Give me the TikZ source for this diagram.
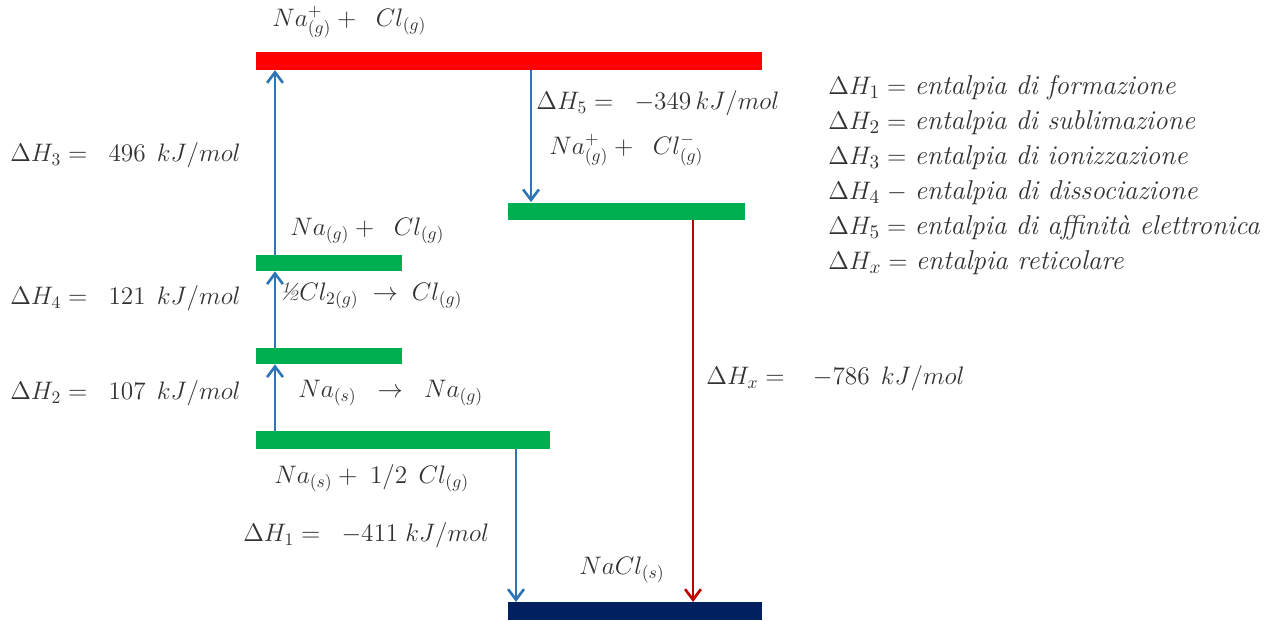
\documentclass[tikz,border=0pt]{standalone}
\usepackage{fontspec}
\usetikzlibrary{arrows.meta}
\definecolor{lvlgreen}{RGB}{0,176,80}
\definecolor{lvlnavy}{RGB}{0,32,96}
\definecolor{arrblue}{RGB}{46,117,182}
\definecolor{arrred}{RGB}{192,0,0}
\begin{document}
\begin{tikzpicture}[x=0.02cm,y=-0.02cm]
\tikzstyle{every node}=[inner sep=0pt,font=\fontsize{14.4}{17}\selectfont,text=black!80]
\tikzstyle{lvl}=[rectangle,anchor=west,minimum height=0.35cm]
\tikzstyle{lbl}=[anchor=west]
\tikzstyle{up}=[draw=arrblue,line width=1.2pt,-{Straight Barb[length=6pt,width=9pt,line width=1.5pt]}]
\useasboundingbox (0,0) rectangle (1278,620);
% energy levels
\path (256,61) node[lvl,fill=red,minimum width=10.12cm] (top) {};
\path (508,211) node[lvl,fill=lvlgreen,minimum width=4.74cm,minimum height=0.34cm] (ion) {};
\path (256,263) node[lvl,fill=lvlgreen,minimum width=2.92cm,minimum height=0.32cm] (atom) {};
\path (256,356) node[lvl,fill=lvlgreen,minimum width=2.92cm,minimum height=0.32cm] (subl) {};
\path (256,440) node[lvl,fill=lvlgreen,minimum width=5.88cm] (base) {};
\path (508,611) node[lvl,fill=lvlnavy,minimum width=5.08cm] (nacl) {};
% arrow columns
\coordinate (xl) at (275,0);
\coordinate (xe) at (531,0);
\coordinate (xf) at (516,0);
\coordinate (xx) at (693,0);
\draw[up] (xl |- base.north) -- (xl |- subl.south);
\draw[up] (xl |- subl.north) -- (xl |- atom.south);
\draw[up] (xl |- atom.north) -- (xl |- top.south);
\draw[up] (xe |- top.south) -- (xe |- ion.north);
\draw[up] (xf |- base.south) -- (xf |- nacl.north);
\draw[up,draw=arrred] (xx |- ion.south) -- (xx |- nacl.north);
% species and enthalpies
\path (272,22) node[lbl] (s-top) {$Na^{+}_{(g)} + \;\; Cl_{(g)}$};
\path (536,103) node[lbl] (h5) {$\Delta H_5 = \;\; {-349}\, kJ/mol$};
\path (549,150) node[lbl] (s-ion) {$Na^{+}_{(g)} + \;\; Cl^{-}_{(g)}$};
\path (10,155) node[lbl] (h3) {$\Delta H_3 = \;\; 496\;\, kJ/mol$};
\path (290,231) node[lbl] (s-atom) {$Na_{(g)} + \;\; Cl_{(g)}$};
\path (10,298) node[lbl] (h4) {$\Delta H_4 = \;\; 121\;\, kJ/mol$};
\path (279,296) node[lbl] (s-half) {\textit{½}$Cl_{2(g)} \;\rightarrow\; Cl_{(g)}$};
\path (10,393) node[lbl] (h2) {$\Delta H_2 = \;\; 107\;\, kJ/mol$};
\path (298,393) node[lbl] (s-sub) {$Na_{(s)} \;\;\rightarrow\;\; Na_{(g)}$};
\path (274,478) node[lbl] (s-base) {$Na_{(s)} + \;1/2\;\, Cl_{(g)}$};
\path (243,535) node[lbl] (h1) {$\Delta H_1 = \;\; {-411}\; kJ/mol$};
\path (579,570) node[lbl] (s-nacl) {$NaCl_{(s)}$};
\path (706,378) node[lbl] (hx) {$\Delta H_x = \;\;\; {-786}\;\, kJ/mol$};
% legend
\foreach \i/\r/\t [count=\k] in {1/=/di formazione, 2/=/di sublimazione, 3/=/di ionizzazione, 4/-/di dissociazione, 5/=/di affinità elettronica, x/=/reticolare}{
\path (828,53+35*\k) node[lbl,font=\fontsize{15.5}{18}\selectfont] (leg-\i) {$\Delta H_{\i} \mathrel{\r}$ \textit{entalpia \t}};}
\end{tikzpicture}
\end{document}
